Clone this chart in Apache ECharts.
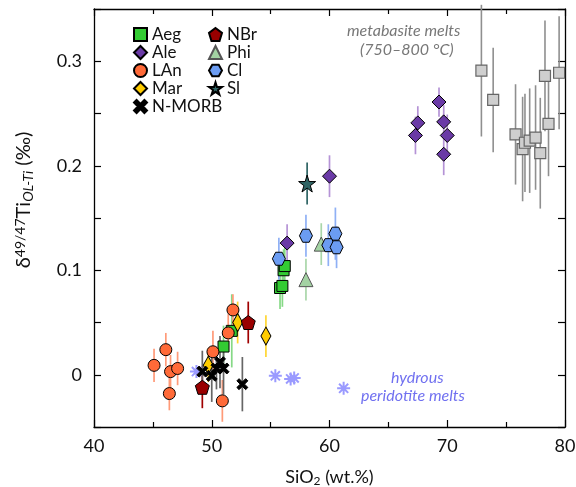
<!DOCTYPE html>
<html>
<head>
<meta charset="utf-8">
<script src="https://cdn.jsdelivr.net/npm/echarts@6/dist/echarts.min.js"></script>
<style>
  html, body { margin: 0; padding: 0; background: #fff; }
  #chart { width: 576px; height: 487px; }
</style>
</head>
<body>
<div id="chart"></div>
<script>
// [SiO2, delta, error]
const aeg = [[55.8, 0.083, 0.02], [56.0, 0.085, 0.02], [56.1, 0.100, 0.02], [56.2, 0.104, 0.02], [51.7, 0.042, 0.035], [51.0, 0.027, 0.02]]
const ale = [[56.4, 0.126, 0.018], [60.0, 0.190, 0.02], [69.3, 0.261, 0.014], [67.5, 0.241, 0.016], [67.3, 0.229, 0.018], [69.7, 0.242, 0.016], [70.0, 0.229, 0.02], [69.7, 0.211, 0.02]]
const lan = [[45.1, 0.009, 0.016], [46.1, 0.024, 0.016], [46.5, 0.003, 0.016], [47.1, 0.006, 0.016], [46.4, -0.018, 0.016], [50.1, 0.022, 0.02], [50.9, -0.025, 0.02], [51.8, 0.062, 0.015], [51.4, 0.040, 0.018]]
const mar = [[49.7, 0.009, 0.016], [52.2, 0.050, 0.02], [54.6, 0.037, 0.02]]
const nbr = [[49.2, -0.012, 0.02], [53.1, 0.050, 0.02]]
const phi = [[59.3, 0.125, 0.02], [58.0, 0.091, 0.02]]
const cl = [[58.0, 0.133, 0.02], [55.7, 0.111, 0.02], [60.5, 0.135, 0.025], [59.9, 0.124, 0.02], [60.6, 0.122, 0.02]]
const sl = [[58.1, 0.183, 0.02]]
const nmorb = [[49.2, 0.003, 0.02], [50.0, -0.001, 0.025], [50.4, 0.006, 0.02], [50.7, 0.012, 0.025], [51.0, 0.006, 0.025], [52.6, -0.009, 0.026]]
const peridotite = [[48.7, 0.003], [55.4, -0.001], [56.7, -0.004], [57.0, -0.003], [61.2, -0.013]]
const metabasite = [[72.9, 0.291, 0.063], [73.9, 0.263, 0.05], [75.8, 0.230, 0.048], [76.4, 0.216, 0.05], [76.6, 0.222, 0.047], [77.0, 0.224, 0.05], [77.5, 0.227, 0.05], [77.9, 0.212, 0.053], [78.3, 0.286, 0.053], [78.6, 0.240, 0.05], [79.5, 0.289, 0.054]]

const FONT = 'Lato'

const pentagon = 'path://M50,0 L100,38 L81,100 L19,100 L0,38 Z'
const hexagon = 'path://M25,0 L75,0 L100,45 L75,90 L25,90 L0,45 Z'
const star = 'path://M50,0 L61,35 L98,35 L68,57 L79,91 L50,70 L21,91 L32,57 L2,35 L39,35 Z'
const cross = 'path://M2,0 L5,3 L8,0 L10,2 L7,5 L10,8 L8,10 L5,7 L2,10 L0,8 L3,5 L0,2 Z'
const asterisk = 'path://M5,0 L5,10 M0,5 L10,5 M1.5,1.5 L8.5,8.5 M8.5,1.5 L1.5,8.5'

const errorBars = (pts, color, w) => {
    return {
        type: 'custom',
        silent: true,
        z: 1,
        renderItem: (params, api) => {
            const a = api.coord([api.value(0), api.value(1)])
            const b = api.coord([api.value(0), api.value(2)])
            return {
                type: 'line',
                shape: { x1: a[0], y1: a[1], x2: b[0], y2: b[1] },
                style: { stroke: color, lineWidth: w || 1.7 }
            }
        },
        encode: { x: 0, y: [1, 2] },
        data: pts.map(p => [p[0], p[1] - p[2], p[1] + p[2]])
    }
}

const points = (name, pts, symbol, size, fill, border) => {
    return {
        name: name,
        type: 'scatter',
        z: 3,
        symbol: symbol,
        symbolSize: size,
        itemStyle: { color: fill, borderColor: border || '#000', borderWidth: 1, opacity: 1 },
        data: pts.map(p => [p[0], p[1]])
    }
}

const chart = echarts.init(document.getElementById('chart'))

const axisCommon = {
    axisLine: { show: true, onZero: false, lineStyle: { color: '#000', width: 1.3 } },
    axisTick: { show: true, inside: true, length: 7, lineStyle: { color: '#000', width: 1.2 } },
    splitLine: { show: false }
}

const yFormat = (value) => {
    const v = Math.round(value * 100)
    if (v % 10 !== 0) return ''
    return v === 0 ? '0' : (v / 100).toFixed(1)
}

const option = {
    animation: false,
    textStyle: { fontFamily: FONT },
    grid: { left: 94, right: 11, top: 9, bottom: 60, containLabel: false, outerBoundsMode: 'none' },
    xAxis: [
        Object.assign({}, axisCommon, {
            type: 'value', min: 40, max: 80, interval: 10,
            minorTick: { show: true, splitNumber: 2, length: 5, lineStyle: { color: '#000', width: 1.2 } },
            axisLabel: { fontSize: 18, color: '#111', margin: 10, fontFamily: FONT },
            name: '{t|SiO}{sub|2}{t| (wt.%)}',
            nameLocation: 'middle',
            nameGap: 40,
            nameTextStyle: {
                rich: {
                    t: { fontSize: 18, color: '#111', fontFamily: FONT },
                    sub: { fontSize: 12, color: '#111', fontFamily: FONT, verticalAlign: 'bottom', padding: [8, 0, 0, 0] }
                }
            }
        }),
        Object.assign({}, axisCommon, {
            type: 'value', min: 40, max: 80, interval: 10, position: 'top',
            minorTick: { show: true, splitNumber: 2, length: 5, lineStyle: { color: '#000', width: 1.2 } },
            axisLabel: { show: false }
        })
    ],
    yAxis: [
        Object.assign({}, axisCommon, {
            type: 'value', min: -0.05, max: 0.35, interval: 0.05,
            axisLabel: { fontSize: 18, color: '#111', margin: 12, fontFamily: FONT, formatter: yFormat }
        }),
        Object.assign({}, axisCommon, {
            type: 'value', min: -0.05, max: 0.35, interval: 0.05, position: 'right',
            axisLabel: { show: false }
        })
    ],
    legend: [
        {
            data: ['Aeg', 'Ale', 'LAn', 'Mar', 'N-MORB'],
            orient: 'vertical', left: 128, top: 21,
            itemWidth: 13, itemHeight: 13, itemGap: 1,
            textStyle: { fontSize: 17, color: '#111', fontFamily: FONT }
        },
        {
            data: ['NBr', 'Phi', 'Cl', 'Sl'],
            orient: 'vertical', left: 203, top: 21,
            itemWidth: 13, itemHeight: 13, itemGap: 1,
            textStyle: { fontSize: 17, color: '#111', fontFamily: FONT }
        }
    ],
    graphic: [
        {
            type: 'text', x: 24, y: 200, rotation: Math.PI / 2,
            style: {
                text: '{t|δ}{sup|49/47}{t|Ti}{sub|OL-Ti}{t| (‰)}',
                align: 'center', verticalAlign: 'middle',
                rich: {
                    t: { fontSize: 20, fill: '#111', fontFamily: FONT },
                    sup: { fontSize: 14, fill: '#111', fontFamily: FONT, verticalAlign: 'top', padding: [0, 0, 8, 0] },
                    sub: { fontSize: 14, fill: '#111', fontFamily: FONT, fontStyle: 'italic', verticalAlign: 'bottom', padding: [8, 0, 0, 0] }
                }
            }
        },
        { type: 'text', left: 347, top: 23, style: { text: 'metabasite melts', fontSize: 16, fontStyle: 'italic', fill: '#777', fontFamily: FONT } },
        { type: 'text', left: 360, top: 42, style: { text: '(750–800 °C)', fontSize: 16, fontStyle: 'italic', fill: '#777', fontFamily: FONT } },
        { type: 'text', left: 391, top: 370, style: { text: 'hydrous', fontSize: 16, fontStyle: 'italic', fill: '#7070f0', fontFamily: FONT } },
        { type: 'text', left: 361, top: 388, style: { text: 'peridotite melts', fontSize: 16, fontStyle: 'italic', fill: '#7070f0', fontFamily: FONT } }
    ],
    series: [
        errorBars(metabasite, '#8f8f8f', 1.6),
        errorBars(ale, '#b593d6'),
        errorBars(aeg, '#86d986'),
        errorBars(phi, '#a9d6a9'),
        errorBars(cl, '#8fb0f5'),
        errorBars(sl, '#2f6464'),
        errorBars(lan, '#ff9a78'),
        errorBars(mar, '#ffd633'),
        errorBars(nbr, '#a00000'),
        errorBars(nmorb, '#666'),
        {
            name: 'metabasite',
            type: 'scatter',
            z: 2,
            symbol: 'rect',
            symbolSize: 11,
            itemStyle: { color: '#cfcfcf', borderColor: '#666', borderWidth: 1.2, opacity: 1 },
            data: metabasite.map(p => [p[0], p[1]])
        },
        {
            name: 'peridotite',
            type: 'scatter',
            z: 2,
            symbol: asterisk,
            symbolSize: 13,
            itemStyle: { color: 'none', borderColor: '#9a9aff', borderWidth: 2, opacity: 1 },
            data: peridotite
        },
        points('Aeg', aeg, 'rect', 11, '#33cc33'),
        points('Ale', ale, 'diamond', 14, '#6a3aa6'),
        points('LAn', lan, 'circle', 12, '#ff6a38'),
        points('Mar', mar, 'diamond', [10, 18], '#ffcc00'),
        points('N-MORB', nmorb, cross, 11, '#000', '#000'),
        points('NBr', nbr, pentagon, 14, '#990000'),
        points('Phi', phi, 'triangle', 14, '#a3d3a3', '#555'),
        points('Cl', cl, hexagon, 13, '#6b9cf2'),
        points('Sl', sl, star, 17, '#2f6464')
    ]
}

chart.setOption(option)
</script>
</body>
</html>
